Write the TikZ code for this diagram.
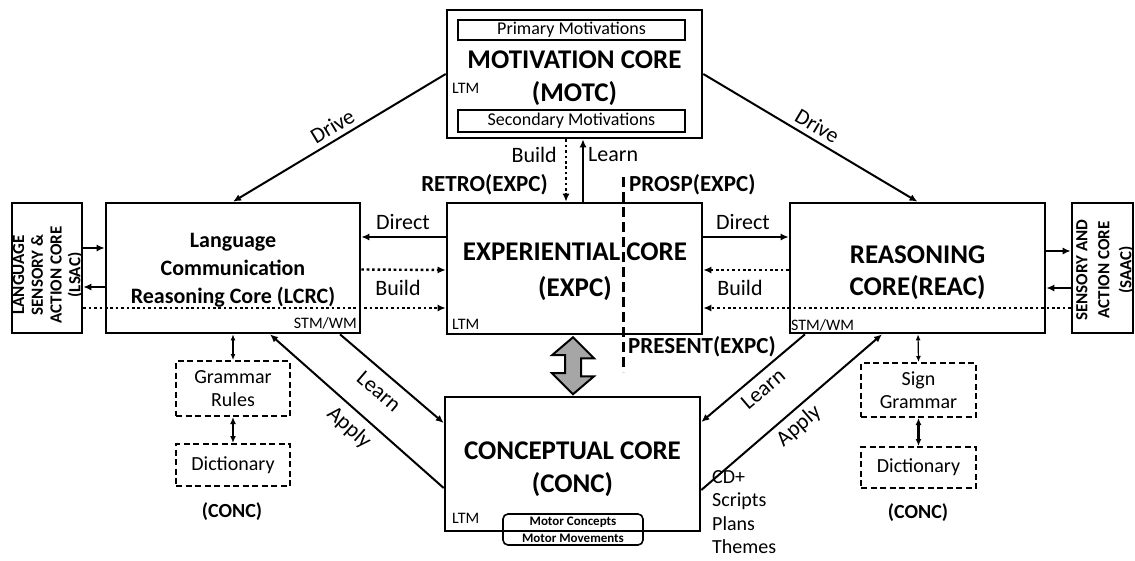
\documentclass[tikz,border=0pt]{standalone}
\usepackage{fontspec}
\setmainfont{Carlito}
\usetikzlibrary{arrows.meta,calc}
\begin{document}
\begin{tikzpicture}[x=1pt,y=-1pt,
  corebox/.style={draw,line width=2.6pt,inner sep=0pt,minimum width=#1},
  dbox/.style={draw,line width=2pt,dash pattern=on 6pt off 3.5pt,inner sep=0pt,align=center,font=\fontsize{20}{23}\selectfont},
  ibox/.style={draw,line width=1.6pt,inner sep=0pt,font=\fontsize{18}{20}\selectfont},
  arr/.style={line width=2pt,-{Latex[length=8pt,width=7pt]}},
  thinarr/.style={line width=1.2pt,{Latex[length=6pt,width=5pt]}-{Latex[length=6pt,width=5pt]}},
  thickarr/.style={line width=2.2pt,{Latex[length=7pt,width=6pt]}-{Latex[length=7pt,width=6pt]}},
  dotarr/.style={line width=2.4pt,dash pattern=on 2.6pt off 2.8pt,-{Latex[length=8pt,width=7pt]}},
  lbl/.style={font=\fontsize{22}{24}\selectfont,inner sep=0pt},
  big/.style={font=\fontsize{27}{33}\bfseries\selectfont,align=center,inner sep=0pt},
  mid/.style={font=\fontsize{22}{28}\bfseries\selectfont,align=center,inner sep=0pt},
  tag/.style={font=\fontsize{23}{26}\bfseries\selectfont,inner sep=0pt},
  small/.style={font=\fontsize{16}{17}\selectfont,inner sep=1pt},
  side/.style={font=\fontsize{17}{18.7}\bfseries\selectfont,align=center,inner sep=0pt,rotate=90}
]
\useasboundingbox (0,0) rectangle (1135,560);
% main boxes
\node[corebox=255pt,minimum height=128pt] (motc) at (574.5,74) {};
\node[corebox=70pt,minimum height=130pt] (lsac) at (47,268) {};
\node[corebox=254pt,minimum height=130pt] (lcrc) at (233,268) {};
\node[corebox=255pt,minimum height=131pt] (expc) at (574.5,268.5) {};
\node[corebox=255pt,minimum height=130pt] (reac) at (917.5,268) {};
\node[corebox=61pt,minimum height=130pt] (saac) at (1102.5,268) {};
\node[corebox=255pt,minimum height=134pt] (conc) at (572.5,464) {};
% motc contents
\node[ibox,minimum width=227pt,minimum height=20pt] (prim) at (571.5,30) {Primary Motivations};
\node[ibox,minimum width=227pt,minimum height=22pt] (sec) at (571.5,121) {Secondary Motivations};
\node[big] (motct) at (574.5,78) {MOTIVATION CORE\\(MOTC)};
\node[small,anchor=west] (ltm1) at (451,88) {LTM};
% lsac / saac
\node[side] (lsact) at (48,275) {LANGUAGE\\SENSORY \&\\ACTION CORE\\(LSAC)};
\node[side,font=\fontsize{17}{22}\bfseries\selectfont] (saact) at (1105,270) {SENSORY AND\\ACTION CORE\\(SAAC)};
% lcrc
\node[mid] (lcrct) at (233,270) {Language\\Communication\\Reasoning Core (LCRC)};
\node[small,anchor=east] (stm1) at (358,323) {STM/WM};
% expc
\node[big,font=\fontsize{27}{36}\bfseries\selectfont] (expct) at (575,272) {EXPERIENTIAL CORE\\(EXPC)};
\node[small,anchor=west] (ltm2) at (451,324) {LTM};
% reac
\node[big,font=\fontsize{27}{32}\bfseries\selectfont] (react) at (917.5,273) {REASONING\\CORE(REAC)};
\node[small,anchor=west] (stm2) at (790,325) {STM/WM};
% conc
\node[big] (conct) at (572.5,469) {CONCEPTUAL CORE\\(CONC)};
\node[small,anchor=west] (ltm3) at (451,518) {LTM};
\draw[line width=1.6pt,rounded corners=5pt] (503,514) rectangle (643,545);
\node[inner sep=0pt,font=\fontsize{13}{14}\bfseries\selectfont] (mc) at (573,522.5) {Motor Concepts};
\node[inner sep=0pt,font=\fontsize{13}{14}\bfseries\selectfont] (mm) at (573,538.5) {Motor Movements};
% side boxes
\node[dbox,minimum width=114pt,minimum height=55pt] (gram) at (233,388.5) {Grammar\\Rules};
\node[dbox,minimum width=114pt,minimum height=42pt] (dict1) at (233,465) {Dictionary};
\node[font=\fontsize{20}{22}\bfseries\selectfont] (conc1) at (232,512) {(CONC)};
\node[dbox,minimum width=115pt,minimum height=54pt] (sign) at (918.5,390) {Sign\\Grammar};
\node[dbox,minimum width=115pt,minimum height=41pt] (dict2) at (918.5,467.5) {Dictionary};
\node[font=\fontsize{20}{22}\bfseries\selectfont] (conc2) at (918,513) {(CONC)};
\node[font=\fontsize{20}{23.5}\selectfont,align=left,anchor=north west,inner sep=0pt] (cd) at (712,470) {CD+\\Scripts\\Plans\\Themes};
% labels
\node[tag] (retro) at (484.5,185) {RETRO(EXPC)};
\node[tag,anchor=west] (prosp) at (629,185) {PROSP(EXPC)};
\node[tag,anchor=west] (pres) at (628,347) {PRESENT(EXPC)};
% dashed divider
\draw[line width=3pt,dash pattern=on 10pt off 5pt] (623,177) -- (623,372);
% drive
\draw[arr] (motc.west) -- node[lbl,sloped,above=5pt] {Drive} (lcrc.north);
\draw[arr] (motc.east) -- node[lbl,sloped,above=5pt] {Drive} (reac.north);
% build / learn motc-expc
\draw[dotarr] ([xshift=-8.5pt]motc.south) -- ([xshift=-8.5pt]expc.north);
\draw[arr] ([xshift=8.5pt]expc.north) -- ([xshift=8.5pt]motc.south);
\node[lbl,anchor=east] at (557,155) {Build};
\node[lbl,anchor=west] at (588,155) {Learn};
% lcrc - expc
\draw[arr] ([yshift=31.5pt]expc.west) -- ([yshift=31pt]lcrc.east);
\draw[dotarr] ([yshift=-1.5pt]lcrc.east) -- ([yshift=-1.5pt]expc.west);
\draw[dotarr] ([yshift=-40pt]lsac.east) -- ([yshift=-39.5pt]expc.west);
\node[lbl] at (403,222) {Direct};
\node[lbl] at (398,288) {Build};
% lsac - lcrc
\draw[arr] ([yshift=20pt]lsac.east) -- ([yshift=20pt]lcrc.west);
\draw[arr] ([yshift=-19pt]lcrc.west) -- ([yshift=-19pt]lsac.east);
% expc - reac
\draw[arr] ([yshift=31.5pt]expc.east) -- ([yshift=31pt]reac.west);
\draw[dotarr] ([yshift=-2pt]reac.west) -- ([yshift=-1.5pt]expc.east);
\draw[dotarr] ([yshift=-40pt]saac.west) -- ([yshift=-39.5pt]expc.east);
\node[lbl] at (743,222) {Direct};
\node[lbl] at (740,288) {Build};
% reac - saac
\draw[arr] ([yshift=17pt]reac.east) -- ([yshift=17pt]saac.west);
\draw[arr] ([yshift=-20pt]saac.west) -- ([yshift=-20pt]reac.east);
% side small arrows
\draw[thinarr] (lcrc.south) -- (gram.north);
\draw[thickarr] (gram.south) -- (dict1.north);
\draw[thinarr] ([xshift=0.5pt]reac.south) -- (sign.north);
\draw[thickarr] (sign.south) -- (dict2.north);
% learn / apply
\draw[arr] ([xshift=107pt]lcrc.south) -- ([yshift=41pt]conc.west);
\draw[arr] ([yshift=-24pt]conc.west) -- ([xshift=37pt]lcrc.south);
\draw[arr] ([xshift=-112.5pt]reac.south) -- ([yshift=42pt]conc.east);
\draw[arr] ([yshift=-26pt]conc.east) -- ([xshift=-35.5pt]reac.south);
\node[lbl,rotate=-40.6] (learnl) at (379,391) {Learn};
\node[lbl,rotate=-41.5] (applyl) at (349,428) {Apply};
\node[lbl,rotate=40.3] (learnr) at (763,389) {Learn};
\node[lbl,rotate=40.8] (applyr) at (799,426) {Apply};
% gray double arrow
\draw[line width=2pt,fill=black!35,line join=miter]
  ($(expc.south)+(-1.5,2)$) -- ++(21,21) -- ++(-13,0) -- ++(0,18) -- ++(13,0) -- ($(conc.north)+(0.5,-1.5)$)
  -- ++(-21,-21) -- ++(13,0) -- ++(0,-18) -- ++(-13,0) -- cycle;
\end{tikzpicture}
\end{document}
